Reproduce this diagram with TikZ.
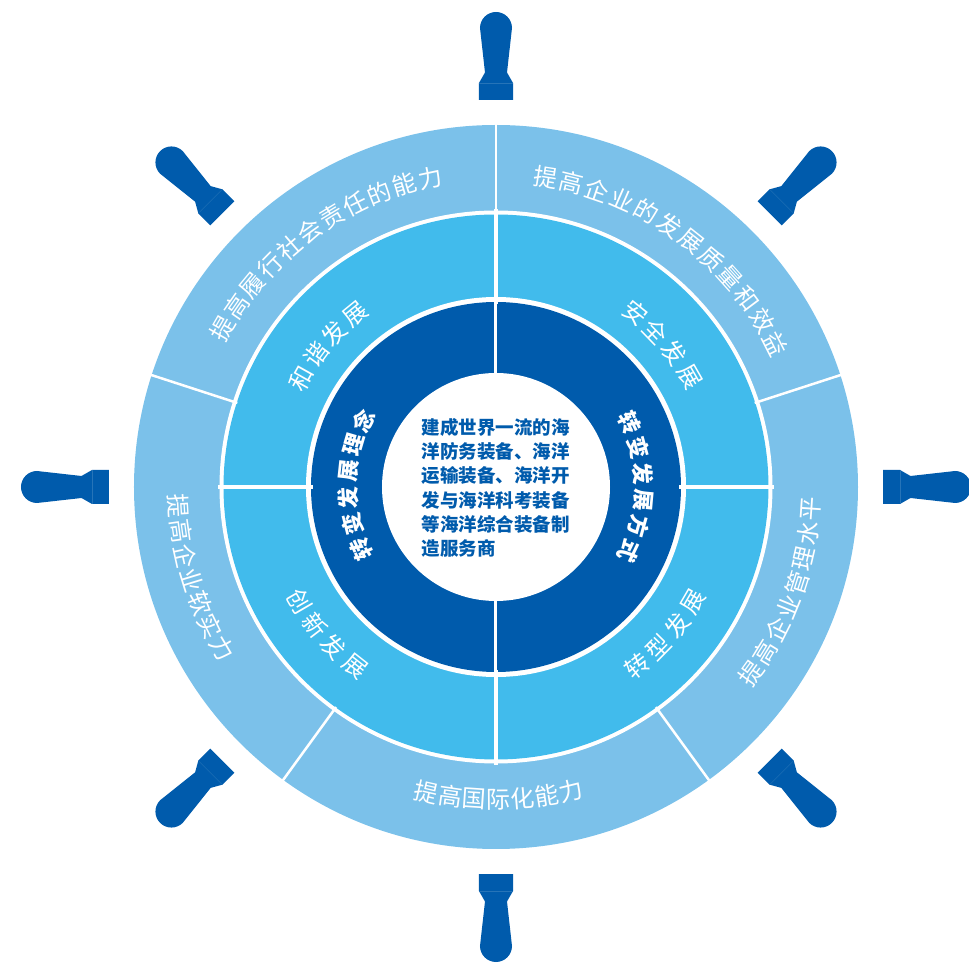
\documentclass[tikz,border=0pt]{standalone}
\usepackage{fontspec}
\setmainfont{Noto Sans CJK SC}
\definecolor{outerc}{HTML}{7BC1EA}
\definecolor{midc}{HTML}{41BBEC}
\definecolor{darkc}{HTML}{005BAC}
\tikzset{
  handlefill/.style={fill=darkc, draw=none},
  handleline/.style={draw=darkc!85!white, line width=0.4pt},
  gapline/.style={draw=white, line width=#1},
  outertext/.style={text=white, inner sep=0pt, font=\fontsize{24}{24}\selectfont},
  midtext/.style={text=white, inner sep=0pt, font=\fontsize{24}{24}\selectfont},
  darktext/.style={text=white, inner sep=0pt, font=\bfseries\fontsize{22}{22}\selectfont},
  coretext/.style={text=darkc, inner sep=0pt, align=left, font=\bfseries\fontsize{18.5}{24.3}\selectfont}
}
% clockwise text, tops outward
\newcommand{\arcCW}[7]{%
  \foreach \ch [count=\i] in {#7} {%
    \pgfmathsetmacro{\ang}{#4 + #5*((#6-1)/2 - (\i-1))}%
    \node[#2, rotate=\ang-90] (#1-\i) at (\ang:#3pt) {\ch};
  }}
% counter-clockwise text, tops inward
\newcommand{\arcCCW}[7]{%
  \foreach \ch [count=\i] in {#7} {%
    \pgfmathsetmacro{\ang}{#4 - #5*((#6-1)/2 - (\i-1))}%
    \node[#2, rotate=\ang+90] (#1-\i) at (\ang:#3pt) {\ch};
  }}
\begin{document}
\begin{tikzpicture}
\useasboundingbox (-496pt,-478pt) rectangle (473pt,487pt);
% handles
\foreach \a in {0,45,...,315} {
  \begin{scope}[rotate=\a-90]
    \fill[handlefill] (-17pt,387pt) -- (-17pt,404pt) -- (-11pt,414.5pt) -- (-16pt,459pt)
      arc[start angle=180, end angle=0, radius=16pt] -- (11pt,414.5pt) -- (17pt,404pt) -- (17pt,387pt) -- cycle;
    \draw[handleline] (-17pt,404pt) -- (17pt,404pt);
  \end{scope}
}
% rings
\fill[outerc] (0,0) circle[radius=362pt];
\fill[white] (0,0) circle[radius=276.5pt];
\fill[midc] (0,0) circle[radius=272.5pt];
\fill[white] (0,0) circle[radius=190pt];
\fill[darkc] (0,0) circle[radius=185pt];
\fill[white] (0,0) circle[radius=114pt];
% dividers
\foreach \a in {90,18,306,234,162} \draw[gapline=2.5pt] (\a:272pt) -- (\a:365pt);
\foreach \a in {0,90,180,270} \draw[gapline=3.5pt] (\a:183pt) -- (\a:278pt);
\foreach \a in {90,270} \draw[gapline=3pt] (\a:110pt) -- (\a:190pt);
% outer ring texts
\arcCW{oa}{outertext}{316}{126}{4.8}{11}{提,高,履,行,社,会,责,任,的,能,力}
\arcCW{ob}{outertext}{314}{54}{4.9}{12}{提,高,企,业,的,发,展,质,量,和,效,益}
\arcCCW{oc}{outertext}{316}{340}{4.6}{8}{提,高,企,业,管,理,水,平}
\arcCCW{od}{outertext}{313}{270.5}{4.45}{7}{提,高,国,际,化,能,力}
\arcCCW{oe}{outertext}{318}{197}{4.5}{7}{提,高,企,业,软,实,力}
% middle ring texts
\arcCW{ma}{midtext}{223}{140}{7.2}{4}{和,谐,发,展}
\arcCW{mb}{midtext}{223}{40.5}{7.2}{4}{安,全,发,展}
\arcCCW{mc}{midtext}{228}{221}{7.2}{4}{创,新,发,展}
\arcCCW{md}{midtext}{228}{319}{7.2}{4}{转,型,发,展}
% dark ring texts
\arcCW{da}{darktext}{148}{179}{10.3}{6}{转,变,发,展,理,念}
\arcCW{db}{darktext}{148}{0}{10.3}{6}{转,变,发,展,方,式}
% core
\node[coretext] (core) at (0pt,-1pt) {建成世界一流的海\\洋防务装备、海洋\\运输装备、海洋开\\发与海洋科考装备\\等海洋综合装备制\\造服务商};
\end{tikzpicture}
\end{document}
